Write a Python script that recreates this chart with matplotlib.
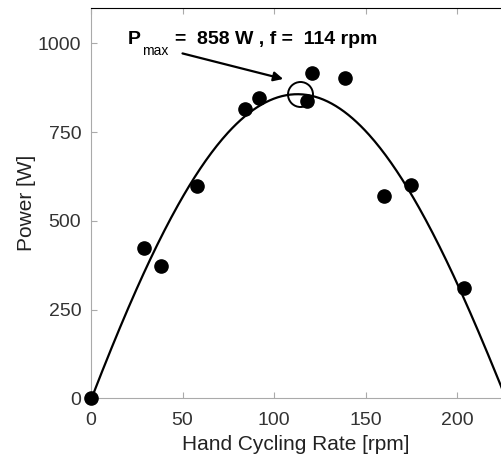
import numpy as np
import matplotlib
matplotlib.use('Agg')
import matplotlib.pyplot as plt

plt.rcParams['font.family'] = ['Liberation Sans', 'DejaVu Sans']

# measured points
rate = [0, 29, 38, 58, 84, 92, 118, 121, 139, 160, 175, 204]
power = [0, 425, 372, 598, 816, 847, 838, 918, 902, 571, 602, 312]

# points
curve_f = [0, 21, 42, 58, 76, 114, 150, 179, 204, 224]
curve_p = [0, 250, 500, 637, 750, 858, 767, 504, 312, 23]

f_opt = 114
p_max = 858

coef = np.polyfit(curve_f, curve_p, 4)
ff = np.linspace(0, 226, 300)
pp = np.polyval(coef, ff)

fig = plt.figure(figsize=(5.01, 4.55), dpi=100)
ax = fig.add_axes([0.1816, 0.1246, 0.8184, 0.8578])

ax.plot(ff, pp, '-', color='black', lw=1.6)
ax.plot(rate, power, 'o', color='black', ms=9.5, clip_on=False, zorder=3)
ax.plot(f_opt, p_max, 'o', mfc='none', mec='black', mew=1.4, ms=18)

ax.annotate('', xy=(105, 900), xytext=(50, 972),
            arrowprops=dict(arrowstyle='-|>', color='black', lw=1.6,
                            mutation_scale=14, shrinkA=0, shrinkB=0))

# P_max label built from pieces so the subscript sits low and thin
tP = ax.text(20.0, 1012, 'P', fontsize=14, fontweight='bold', va='center', ha='left')
tm = ax.annotate('max', xy=(1, 0), xycoords=tP, xytext=(1, -2), textcoords='offset points',
                 fontsize=10, va='center', ha='left')
ax.annotate('=  %d W , f =  %d rpm' % (p_max, f_opt), xy=(1, 0.5), xycoords=(tm, tP),
            xytext=(5, 0), textcoords='offset points',
            fontsize=14, fontweight='bold', va='center', ha='left')

ax.set_xlim(0, 224)
ax.set_ylim(0, 1100)
ax.set_xticks([0, 50, 100, 150, 200])
ax.set_yticks([0, 250, 500, 750, 1000])

ax.spines['right'].set_visible(False)
ax.spines['top'].set_color('black')
ax.spines['left'].set_color('#aaaaaa')
ax.spines['bottom'].set_color('#aaaaaa')
ax.tick_params(direction='in', length=4, color='#aaaaaa', labelsize=14,
               labelcolor='#333333', top=True)
ax.tick_params(axis='y', pad=7)
ax.tick_params(axis='x', pad=10)

ax.set_xlabel('Hand Cycling Rate [rpm]', fontsize=15, color='#222222', labelpad=4)
ax.set_ylabel('Power [W]', fontsize=15, color='#222222', labelpad=1)

plt.savefig('out.png', dpi=100)
